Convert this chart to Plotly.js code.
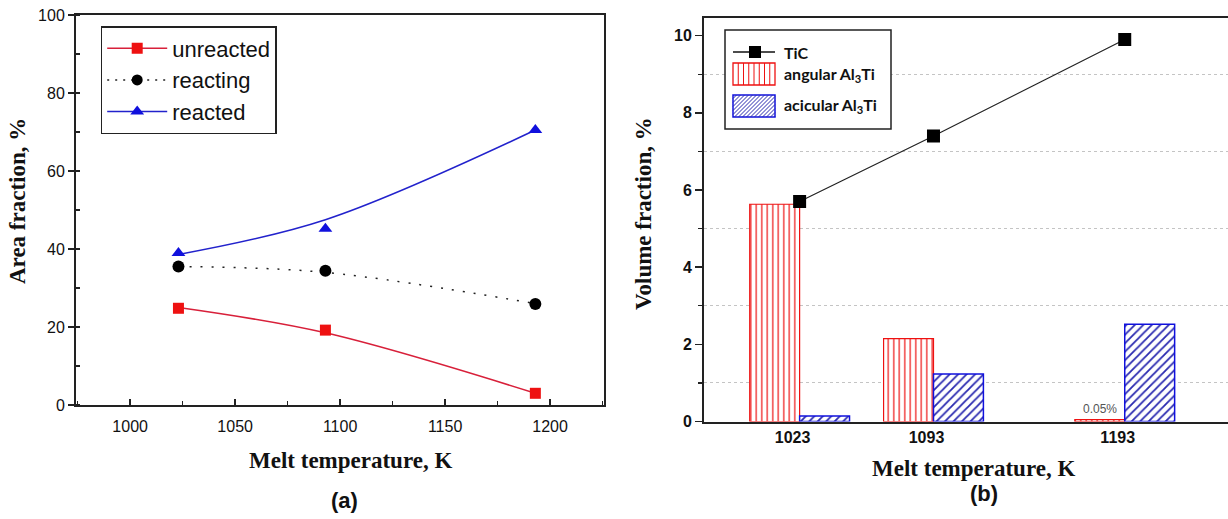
<!DOCTYPE html>
<html>
<head>
<meta charset="utf-8">
<script src="https://cdn.plot.ly/plotly-3.0.1.min.js"></script>
<style>html,body{margin:0;padding:0;background:#fff;}#chart{width:1228px;height:519px;}</style>
</head>
<body>
<div id="chart"></div>
<script>
// ---- Panel (a): area fraction vs melt temperature ----
const tempA = [1023, 1093, 1193];
const unreacted = [24.8, 19.2, 3.0];
const reacting = [35.5, 34.4, 25.9];
const reacted = [39.0, 45.2, 70.5];
// fitted trend lines drawn in the figure
const unreactedFit = [25.0, 18.5, 3.0];
const reactingFit = [35.5, 34.0, 26.0];
const reactedFit = [38.6, 47.5, 70.5];
const seriesNamesA = ['unreacted', 'reacting', 'reacted'];

// ---- Panel (b): volume fraction vs melt temperature ----
const tempB = [1023, 1093, 1193];
const tickLabelsB = ['1023', '1093', '1193'];
const angularAl3Ti = [5.63, 2.15, 0.05];
const acicularAl3Ti = [0.14, 1.23, 2.52];
const tic = [5.7, 7.4, 9.9];
const seriesNamesB = ['TiC', 'angular Al<sub>3</sub>Ti', 'acicular Al<sub>3</sub>Ti'];
const smallLabel = '0.05%';

const RED = '#ee1111', BLACK = '#000000', BLUE = '#1010dd';
const barW = 26.1;
const W = 1228, H = 519;
const px = v => v / W;
const py = v => 1 - v / H;

const traces = [
  // fit lines (a)
  {x: tempA, y: unreactedFit, mode: 'lines', line: {color: '#d8203a', width: 1.5, shape: 'spline'}, showlegend: false, xaxis: 'x', yaxis: 'y'},
  {x: tempA, y: reactingFit, mode: 'lines', line: {color: '#222', width: 1.5, dash: '2px,9px', shape: 'spline'}, showlegend: false, xaxis: 'x', yaxis: 'y'},
  {x: tempA, y: reactedFit, mode: 'lines', line: {color: '#2222cc', width: 1.5, shape: 'spline'}, showlegend: false, xaxis: 'x', yaxis: 'y'},
  // markers (a)
  {x: tempA, y: unreacted, mode: 'markers', marker: {symbol: 'square', size: 11, color: RED}, showlegend: false, xaxis: 'x', yaxis: 'y'},
  {x: tempA, y: reacting, mode: 'markers', marker: {symbol: 'circle', size: 12, color: BLACK}, showlegend: false, xaxis: 'x', yaxis: 'y'},
  {x: tempA, y: reacted, mode: 'markers', marker: {symbol: 'triangle-up', size: 12, color: BLUE}, showlegend: false, xaxis: 'x', yaxis: 'y'},
  // legend entries (a)
  {x: [null], y: [null], name: seriesNamesA[0], mode: 'lines+markers', line: {color: '#d8203a', width: 1.5}, marker: {symbol: 'square', size: 11, color: RED}, legendgroup: 'a1', xaxis: 'x', yaxis: 'y'},
  {x: [null], y: [null], name: seriesNamesA[1], mode: 'lines+markers', line: {color: '#222', width: 1.5, dash: '2px,6px'}, marker: {symbol: 'circle', size: 11, color: BLACK}, legendgroup: 'a2', xaxis: 'x', yaxis: 'y'},
  {x: [null], y: [null], name: seriesNamesA[2], mode: 'lines+markers', line: {color: '#2222cc', width: 1.5}, marker: {symbol: 'triangle-up', size: 12, color: BLUE}, legendgroup: 'a3', xaxis: 'x', yaxis: 'y'},
  // bars (b)
  {type: 'bar', x: tempB, y: angularAl3Ti, name: seriesNamesB[1], width: barW, offset: -barW, showlegend: false,
   marker: {color: 'white', line: {color: RED, width: 1.2}, pattern: {shape: '|', fgcolor: RED, bgcolor: 'white', size: 5.5, solidity: 0.22}},
   xaxis: 'x2', yaxis: 'y2'},
  {type: 'bar', x: tempB, y: acicularAl3Ti, name: seriesNamesB[2], width: barW, offset: 0, showlegend: false,
   marker: {color: 'white', line: {color: BLUE, width: 1.5}, pattern: {shape: '/', fgcolor: '#2a2ab0', bgcolor: 'white', size: 6, solidity: 0.3}},
   xaxis: 'x2', yaxis: 'y2'},
  // TiC line (b)
  {x: tempB, y: tic, name: seriesNamesB[0], mode: 'lines+markers', line: {color: '#222', width: 1.2}, showlegend: false,
   marker: {symbol: 'square', size: 13, color: BLACK}, xaxis: 'x2', yaxis: 'y2'}
];

// ---- drawn legend for panel (b) (swatches in pixel geometry) ----
const legShapes = [];
const L = {x0: 725, x1: 891, y0: 30, y1: 129, sx0: 733, sx1: 775};
legShapes.push({type: 'rect', xref: 'paper', yref: 'paper', x0: px(L.x0), x1: px(L.x1), y0: py(L.y1), y1: py(L.y0),
  line: {color: '#222', width: 1.5}, fillcolor: 'white', layer: 'above'});
// TiC line + square
legShapes.push({type: 'line', xref: 'paper', yref: 'paper', x0: px(L.sx0), x1: px(L.sx1), y0: py(52), y1: py(52), line: {color: '#111', width: 1.5}});
legShapes.push({type: 'rect', xref: 'paper', yref: 'paper', x0: px(749), x1: px(761), y0: py(58), y1: py(46), line: {color: '#000', width: 0}, fillcolor: '#000'});
// angular swatch
const aTop = 63, aBot = 85;
legShapes.push({type: 'rect', xref: 'paper', yref: 'paper', x0: px(L.sx0), x1: px(L.sx1), y0: py(aBot), y1: py(aTop), line: {color: RED, width: 1.3}, fillcolor: 'white'});
for (let xx = L.sx0 + 5.25; xx < L.sx1 - 1; xx += 5.25) {
  legShapes.push({type: 'line', xref: 'paper', yref: 'paper', x0: px(xx), x1: px(xx), y0: py(aBot), y1: py(aTop), line: {color: RED, width: 1}});
}
// acicular swatch
const cTop = 95, cBot = 117, sw = L.sx1 - L.sx0, sh = cBot - cTop;
legShapes.push({type: 'rect', xref: 'paper', yref: 'paper', x0: px(L.sx0), x1: px(L.sx1), y0: py(cBot), y1: py(cTop), line: {color: BLUE, width: 1.5}, fillcolor: 'white'});
for (let c = -sh + 3.5; c < sw; c += 4) {
  const u0 = Math.max(0, c), u1 = Math.min(sw, c + sh);
  if (u1 - u0 < 0.5) continue;
  legShapes.push({type: 'line', xref: 'paper', yref: 'paper',
    x0: px(L.sx0 + u0), y0: py(cBot - (u0 - c)), x1: px(L.sx0 + u1), y1: py(cBot - (u1 - c)),
    line: {color: '#2a2ab0', width: 1}});
}

const tickFontA = {family: '"Liberation Sans Narrow", "Arial Narrow", Arial, sans-serif', size: 16, color: '#111'};
const titleFont = {family: '"Liberation Serif", "Times New Roman", serif', size: 23, color: '#111', weight: 'bold'};
const legFontB = {family: 'Lato, "Open Sans", sans-serif', size: 16, color: '#111', weight: 'bold'};
const ann = (text, x, y, extra) => Object.assign({text, xref: 'paper', yref: 'paper', x: px(x), y: py(y),
  xanchor: 'center', yanchor: 'middle', showarrow: false, font: titleFont}, extra || {});

const layout = {
  width: W, height: H,
  margin: {l: 0, r: 0, t: 0, b: 0},
  paper_bgcolor: 'white', plot_bgcolor: 'white',
  barmode: 'overlay',
  showlegend: true,
  xaxis: {
    domain: [px(76), px(604)], range: [974.2, 1225.7], anchor: 'y',
    tick0: 1000, dtick: 50, ticks: 'inside', ticklen: 6, tickwidth: 1.5, tickcolor: '#222',
    minor: {dtick: 25, ticks: 'inside', ticklen: 4, tickwidth: 1.2, tickcolor: '#222'},
    showline: true, linecolor: '#222', linewidth: 2, mirror: true,
    showgrid: false, zeroline: false, tickfont: tickFontA, ticklabelstandoff: 6
  },
  yaxis: {
    domain: [py(405), py(15)], range: [0, 100], anchor: 'x',
    tick0: 0, dtick: 20, ticks: 'outside', ticklen: 6, tickwidth: 1.5, tickcolor: '#222',
    minor: {dtick: 10, ticks: 'inside', ticklen: 4, tickwidth: 1.2, tickcolor: '#222'},
    showline: true, linecolor: '#222', linewidth: 2, mirror: true,
    showgrid: false, zeroline: false, tickfont: tickFontA
  },
  xaxis2: {
    domain: [px(704), 1.0], range: [973, 1247], anchor: 'y2',
    tickvals: tempB, ticktext: tickLabelsB, ticks: '', ticklabelshift: -7,
    showline: true, linecolor: '#222', linewidth: 2, mirror: true,
    showgrid: false, zeroline: false,
    tickfont: {family: 'Arial, "Liberation Sans", sans-serif', size: 16, color: '#111', weight: 'bold'}
  },
  yaxis2: {
    domain: [py(421.5), py(17.5)], range: [0, 10.47], anchor: 'x2',
    tick0: 0, dtick: 2, ticks: 'outside', ticklen: 7, tickwidth: 1.5, tickcolor: '#222',
    minor: {dtick: 1, ticks: 'outside', ticklen: 4, tickwidth: 1.2, tickcolor: '#222',
            showgrid: true, gridcolor: '#c4c4c4', griddash: 'dot', gridwidth: 1},
    showline: true, linecolor: '#222', linewidth: 2, mirror: false,
    showgrid: false, zeroline: false,
    tickfont: {family: 'Arial, "Liberation Sans", sans-serif', size: 16, color: '#111', weight: 'bold'}
  },
  legend: {
    x: px(100.7), y: py(26), xanchor: 'left', yanchor: 'top',
    bgcolor: 'white', bordercolor: '#222', borderwidth: 1.5,
    font: {family: 'Arial, "Liberation Sans", sans-serif', size: 22, color: '#111'},
    itemwidth: 60, traceorder: 'grouped', tracegroupgap: 0
  },
  shapes: legShapes,
  annotations: [
    ann('Area fraction, %', 17, 201, {textangle: -90}),
    ann('Melt temperature, K', 350, 460),
    ann('Volume fraction, %', 643, 214, {textangle: -90}),
    ann('Melt temperature, K', 973.5, 468),
    ann('(a)', 344, 500, {font: {family: 'Arial, "Liberation Sans", sans-serif', size: 22, color: '#111', weight: 'bold'}}),
    ann('(b)', 984, 493, {font: {family: 'Arial, "Liberation Sans", sans-serif', size: 22, color: '#111', weight: 'bold'}}),
    ann(seriesNamesB[0], 781.7, 52, {xanchor: 'left', font: legFontB}),
    ann(seriesNamesB[1], 781.7, 75, {xanchor: 'left', font: legFontB}),
    ann(seriesNamesB[2], 781.7, 106, {xanchor: 'left', font: legFontB}),
    {text: smallLabel, xref: 'x2', yref: 'y2', x: tempB[2] - barW / 2, y: angularAl3Ti[2], yanchor: 'bottom', yshift: 2,
     showarrow: false, font: {family: 'Arial, "Liberation Sans", sans-serif', size: 12, color: '#555'}}
  ]
};

Plotly.newPlot('chart', traces, layout, {staticPlot: true, displayModeBar: false});
</script>
</body>
</html>
